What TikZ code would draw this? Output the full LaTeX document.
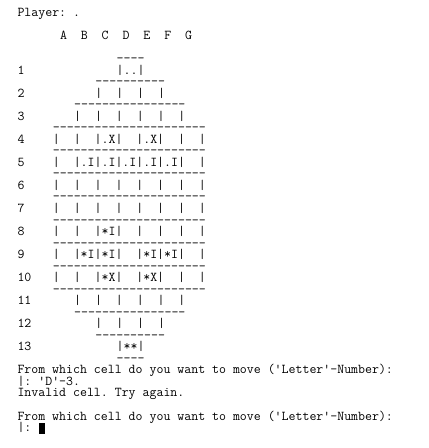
\documentclass[tikz,border=0pt]{standalone}
\newcommand\dsh{-\kern0pt}
\newcommand\dashrun[1]{\foreach\k in {1,...,#1}{\dsh}}
\newcommand\q{\textquotesingle}
\tikzset{
  tline/.style={anchor=base west, inner sep=0pt, outer sep=0pt, font=\fontsize{13.5}{14}\selectfont\ttfamily, text=black},
  cursorbox/.style={fill=black, draw=none, inner sep=0pt, minimum width=6pt, minimum height=10.5pt, anchor=south west}
}
% \tl{name}{line}{column}{text}
\newcommand\tl[4]{\node[tline] (#1) at ({17.5+#3*7.0875},{16.5+#2*11.53}) {#4};}
\begin{document}
\begin{tikzpicture}[x=1pt,y=-1pt]
\useasboundingbox (0,0) rectangle (429,448);
\tl{player}{0}{0}{Player:~.}
\tl{letters}{2}{6}{A~~B~~C~~D~~E~~F~~G}
\tl{d4}{4}{14}{\dashrun{4}}
\tl{n1}{5}{0}{1}  \tl{r1}{5}{14}{|..|}
\tl{d6}{6}{11}{\dashrun{10}}
\tl{n2}{7}{0}{2}  \tl{r2}{7}{11}{|~~|~~|~~|}
\tl{d8}{8}{8}{\dashrun{16}}
\tl{n3}{9}{0}{3}  \tl{r3}{9}{8}{|~~|~~|~~|~~|~~|}
\tl{d10}{10}{5}{\dashrun{22}}
\tl{n4}{11}{0}{4} \tl{r4}{11}{5}{|~~|~~|.X|~~|.X|~~|~~|}
\tl{d12}{12}{5}{\dashrun{22}}
\tl{n5}{13}{0}{5} \tl{r5}{13}{5}{|~~|.I|.I|.I|.I|.I|~~|}
\tl{d14}{14}{5}{\dashrun{22}}
\tl{n6}{15}{0}{6} \tl{r6}{15}{5}{|~~|~~|~~|~~|~~|~~|~~|}
\tl{d16}{16}{5}{\dashrun{22}}
\tl{n7}{17}{0}{7} \tl{r7}{17}{5}{|~~|~~|~~|~~|~~|~~|~~|}
\tl{d18}{18}{5}{\dashrun{22}}
\tl{n8}{19}{0}{8} \tl{r8}{19}{5}{|~~|~~|*I|~~|~~|~~|~~|}
\tl{d20}{20}{5}{\dashrun{22}}
\tl{n9}{21}{0}{9} \tl{r9}{21}{5}{|~~|*I|*I|~~|*I|*I|~~|}
\tl{d22}{22}{5}{\dashrun{22}}
\tl{n10}{23}{0}{10} \tl{r10}{23}{5}{|~~|~~|*X|~~|*X|~~|~~|}
\tl{d24}{24}{5}{\dashrun{22}}
\tl{n11}{25}{0}{11} \tl{r11}{25}{8}{|~~|~~|~~|~~|~~|}
\tl{d26}{26}{8}{\dashrun{16}}
\tl{n12}{27}{0}{12} \tl{r12}{27}{11}{|~~|~~|~~|}
\tl{d28}{28}{11}{\dashrun{10}}
\tl{n13}{29}{0}{13} \tl{r13}{29}{14}{|**|}
\tl{d30}{30}{14}{\dashrun{4}}
\tl{ask1}{31}{0}{From~which~cell~do~you~want~to~move~(\q Letter\q-Number):}
\tl{ans1}{32}{0}{|:~\q D\q-3.}
\tl{inv}{33}{0}{Invalid~cell.~Try~again.}
\tl{ask2}{35}{0}{From~which~cell~do~you~want~to~move~(\q Letter\q-Number):}
\tl{ans2}{36}{0}{|:}
\node[cursorbox] (cursor) at (38.6,434) {};
\end{tikzpicture}
\end{document}
